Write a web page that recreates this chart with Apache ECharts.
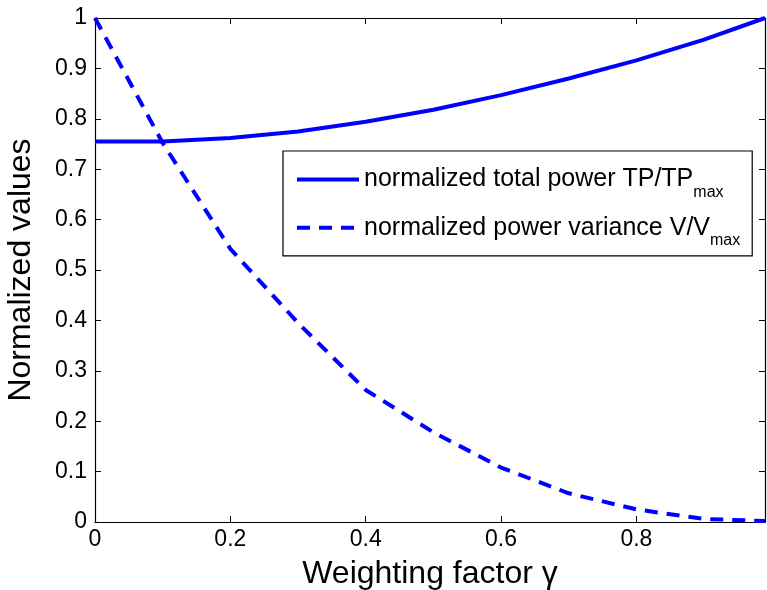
<!DOCTYPE html>
<html>
<head>
<meta charset="utf-8">
<script src="https://cdn.jsdelivr.net/npm/echarts@6/dist/echarts.min.js"></script>
<style>
  html, body { margin: 0; padding: 0; background: #fff; }
  #chart { width: 767px; height: 590px; }
</style>
</head>
<body>
<div id="chart"></div>
<script>
// weighting factor gamma
var gamma = [0, 0.1, 0.2, 0.3, 0.4, 0.5, 0.6, 0.7, 0.8, 0.9, 0.99]
// normalized total power TP/TPmax
var totalPower = [0.755, 0.755, 0.762, 0.775, 0.794, 0.818, 0.847, 0.880, 0.916, 0.957, 1.0]
// normalized power variance V/Vmax
var variance = [1.0, 0.752, 0.542, 0.395, 0.262, 0.178, 0.108, 0.057, 0.025, 0.006, 0.002]
var xTicks = ['0', '0.2', '0.4', '0.6', '0.8']

var font = 'Liberation Sans, Arial, Helvetica, sans-serif'
var blue = '#0000ff'

function pairs (xs, ys) {
  return xs.map(function (x, i) { return [x, ys[i]] })
}

var legendText = {
  tp: '{t|normalized total power TP/TP}{s|max}',
  v: '{t|normalized power variance V/V}{s|max}'
}

var myChart = echarts.init(document.getElementById('chart'), null, { renderer: 'canvas' })

var axisCommon = {
  axisLine: { show: true, onZero: false, lineStyle: { color: '#000', width: 1.2 } },
  axisTick: { show: true, inside: true, length: 6, lineStyle: { color: '#000', width: 1 } },
  splitLine: { show: false }
}

var option = {
  animation: false,
  backgroundColor: '#fff',
  grid: { left: 95, right: 2, top: 18, bottom: 68, containLabel: false, outerBoundsMode: 'none' },
  xAxis: [
    Object.assign({
      type: 'value', min: 0, max: 0.99, interval: 0.2,
      name: 'Weighting factor γ', nameLocation: 'middle', nameGap: 36,
      nameTextStyle: { fontFamily: font, fontSize: 32, color: '#000' },
      axisLabel: {
        fontFamily: font, fontSize: 23, color: '#000', margin: 6, showMaxLabel: false,
        formatter: function (v) {
          var i = Math.round(v / 0.2)
          return Math.abs(v - i * 0.2) < 1e-6 ? xTicks[i] : ''
        }
      }
    }, axisCommon),
    Object.assign({
      type: 'value', min: 0, max: 0.99, interval: 0.2, position: 'top',
      axisLabel: { show: false }
    }, axisCommon)
  ],
  yAxis: [
    Object.assign({
      type: 'value', min: 0, max: 1, interval: 0.1,
      name: 'Normalized values', nameLocation: 'middle', nameGap: 58,
      nameTextStyle: { fontFamily: font, fontSize: 32, color: '#000' },
      axisLabel: {
        fontFamily: font, fontSize: 23, color: '#000', margin: 8,
        formatter: function (v) { return String(+v.toFixed(1)) }
      }
    }, axisCommon),
    Object.assign({
      type: 'value', min: 0, max: 1, interval: 0.1, position: 'right',
      axisLabel: { show: false }
    }, axisCommon)
  ],
  legend: {
    left: 283, top: 151,
    orient: 'vertical',
    padding: [14, 12, 7, 12],
    itemGap: 13,
    itemWidth: 62, itemHeight: 36,
    backgroundColor: '#fff',
    borderColor: '#000', borderWidth: 1.2,
    data: ['tp', 'v'],
    itemStyle: { color: 'transparent', borderWidth: 0, opacity: 0 },
    lineStyle: { width: 4 },
    formatter: function (name) { return legendText[name] },
    textStyle: {
      padding: [0, 0, 0, 0],
      rich: {
        t: { fontFamily: font, fontSize: 25, color: '#000' },
        s: { fontFamily: font, fontSize: 16, color: '#000', padding: [26, 0, 0, 0] }
      }
    }
  },
  series: [
    {
      name: 'tp', type: 'line', symbol: 'none',
      data: pairs(gamma, totalPower),
      lineStyle: { color: blue, width: 4, type: 'solid' },
      itemStyle: { color: blue }
    },
    {
      name: 'v', type: 'line', symbol: 'none',
      data: pairs(gamma, variance),
      lineStyle: { color: blue, width: 4, type: [13, 9] },
      itemStyle: { color: blue }
    }
  ]
}

myChart.setOption(option)
</script>
</body>
</html>
